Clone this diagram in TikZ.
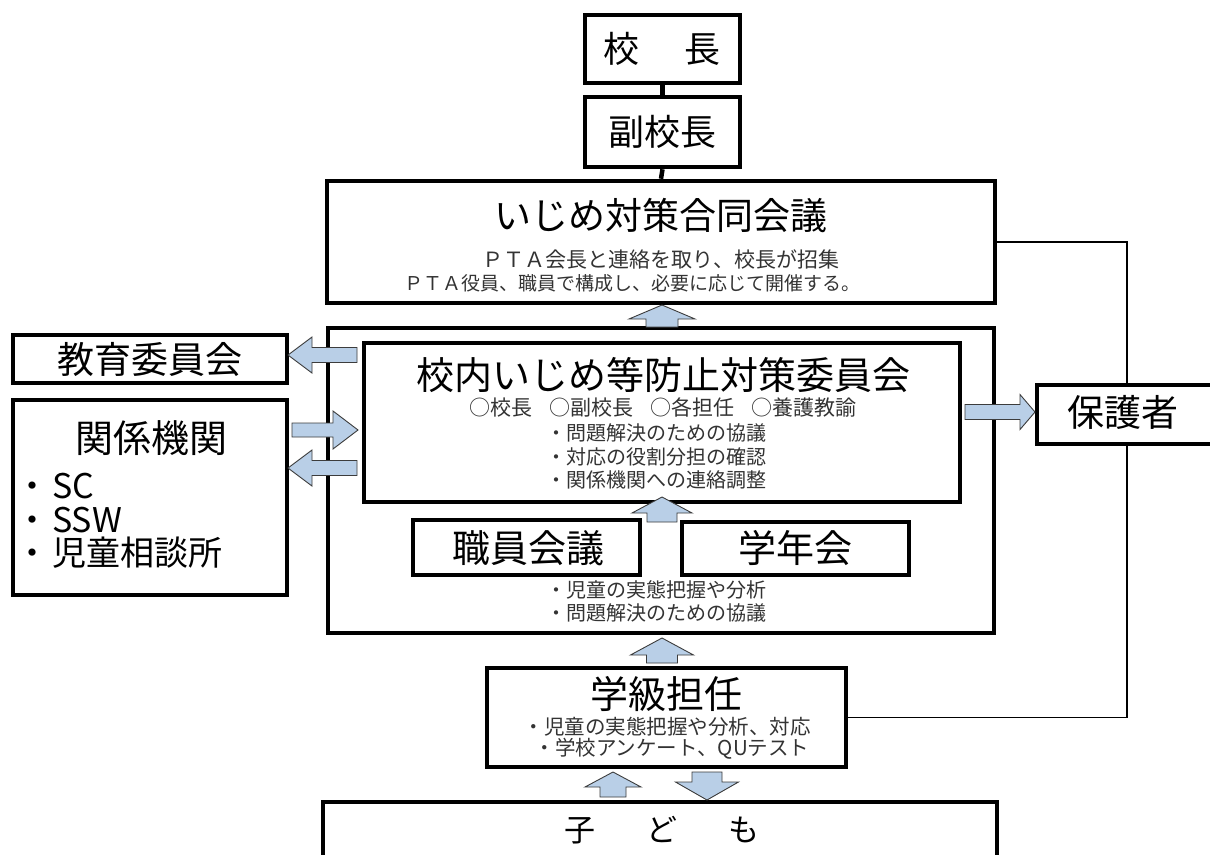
\documentclass[tikz,border=0pt]{standalone}
\usepackage{fontspec}
\setmainfont{Noto Sans CJK JP}
\usetikzlibrary{calc}
\definecolor{arrfill}{RGB}{185,207,231}
\definecolor{arredge}{RGB}{60,60,60}
\newcommand{\fsz}[1]{\fontsize{#1}{#1}\selectfont}
% #1 x, #2 y of tail centre, #3 angle, #4 length, #5 shaft width, #6 head width, #7 head length
\newcommand{\blkarrow}[7]{\draw[barr, shift={(#1,#2)}, rotate=#3] (0,{-#5/2}) -- ({#4-#7},{-#5/2}) -- ({#4-#7},{-#6/2}) -- (#4,0) -- ({#4-#7},{#6/2}) -- ({#4-#7},{#5/2}) -- (0,{#5/2}) -- cycle;}
\begin{document}
\begin{tikzpicture}[x=1pt,y=-1pt,
  box/.style={draw, line width=4.5pt, fill=white, inner sep=0pt},
  thinline/.style={line width=1.3pt},
  thickline/.style={line width=4.5pt},
  barr/.style={draw=arredge, fill=arrfill, line width=0.9pt, line join=miter},
  txt/.style={inner sep=0pt, text=black},
  small/.style={inner sep=0pt, text=black!80}]
\useasboundingbox (0,0) rectangle (1210,854);
\clip (0,0) rectangle (1210,854);
\fill[white] (0,0) rectangle (1210,854);

% boxes
\node[box, minimum width=155, minimum height=68] (kocho) at (662.5,49) {};
\node[box, minimum width=155, minimum height=70] (fuku) at (662.5,132) {};
\node[box, minimum width=668, minimum height=122] (godo) at (661,242) {};
\node[box, minimum width=666, minimum height=305] (outer) at (661,480.5) {};
\node[box, minimum width=596, minimum height=159] (inner) at (662,422.5) {};
\node[box, minimum width=227, minimum height=55] (shokuin) at (526.5,547.5) {};
\node[box, minimum width=227, minimum height=53] (gakunen) at (795.5,548.5) {};
\node[box, minimum width=274, minimum height=48] (kyoiku) at (150,359) {};
\node[box, minimum width=274, minimum height=195] (kankei) at (150,497.5) {};
\node[box, minimum width=180, minimum height=59] (hogo) at (1127,414.5) {};
\node[box, minimum width=359, minimum height=99] (gakkyu) at (666.5,717.5) {};
\node[box, minimum width=674, minimum height=100] (kodomo) at (660,852) {};

% connectors
\draw[thickline] (kocho.south) -- (fuku.north);
\draw[thickline] (fuku.south) -- (godo.north);
\draw[thinline] (godo.east) -| (hogo.north);
\draw[thinline] (hogo.south) |- (gakkyu.east);

% texts
\node[txt, font=\fsz{36}] (t-kocho) at (662,49) {校\hspace{45pt}長};
\node[txt, font=\fsz{36}] (t-fuku) at (662,132) {副校長};
\node[txt, font=\fsz{37}] (t-godo) at (661,216) {いじめ対策合同会議};
\node[small, font=\fsz{21}] (t-godo1) at (661,259) {ＰＴＡ会長と連絡を取り、校長が招集};
\node[small, font=\fsz{19}] (t-godo2) at (632,283) {ＰＴＡ役員、職員で構成し、必要に応じて開催する。};

\node[txt, font=\fsz{38}] (t-inner) at (663,375) {校内いじめ等防止対策委員会};
\node[small, font=\fsz{21}] (t-inner0) at (663,407) {○校長\hspace{17pt}○副校長\hspace{17pt}○各担任\hspace{17pt}○養護教諭};
\node[small, font=\fsz{20}, anchor=west] (t-inner1) at (546,433) {・問題解決のための協議};
\node[small, font=\fsz{20}, anchor=west] (t-inner2) at (546,457) {・対応の役割分担の確認};
\node[small, font=\fsz{20}, anchor=west] (t-inner3) at (546,480) {・関係機関への連絡調整};

\node[txt, font=\fsz{38}] (t-shokuin) at (528,548) {職員会議};
\node[txt, font=\fsz{38}] (t-gakunen) at (795,548) {学年会};
\node[small, font=\fsz{20}, anchor=west] (t-outer1) at (546,590) {・児童の実態把握や分析};
\node[small, font=\fsz{20}, anchor=west] (t-outer2) at (546,613) {・問題解決のための協議};

\node[txt, font=\fsz{37}] (t-kyoiku) at (150,359) {教育委員会};
\node[txt, font=\fsz{38}] (t-kankei) at (151,438) {関係機関};
\node[txt, font=\fsz{34}, anchor=west] (t-sc) at (15,486) {・\hspace{3pt}SC};
\node[txt, font=\fsz{34}, anchor=west] (t-ssw) at (15,520) {・\hspace{3pt}SSW};
\node[txt, font=\fsz{34}, anchor=west] (t-jido) at (15,553) {・\hspace{3pt}児童相談所};

\node[txt, font=\fsz{37}] (t-hogo) at (1123,412) {保護者};

\node[txt, font=\fsz{38}] (t-gakkyu) at (666,694) {学級担任};
\node[small, font=\fsz{20.5}] (t-gakkyu1) at (667,727) {・児童の実態把握や分析、対応};
\node[small, font=\fsz{20.5}] (t-gakkyu2) at (672,749) {・学校アンケート、QUテスト};

\node[txt, font=\fsz{31}] (t-kodomo) at (662,830) {子\hspace{51pt}ど\hspace{51pt}も};

% block arrows
\blkarrow{662}{327}{90}{22}{32}{66}{14}
\blkarrow{662}{522}{90}{25}{30}{60}{16}
\blkarrow{662}{663}{90}{25}{31}{63}{17}
\blkarrow{613}{797}{90}{25}{26}{56}{15}
\blkarrow{707}{772}{-90}{28}{30}{63}{18}
\blkarrow{357}{355}{180}{69}{15}{36}{24}
\blkarrow{292}{430}{0}{66}{14}{38}{25}
\blkarrow{357}{468}{180}{69}{15}{36}{24}
\blkarrow{965}{412}{0}{70}{15}{35}{15}
\end{tikzpicture}
\end{document}
